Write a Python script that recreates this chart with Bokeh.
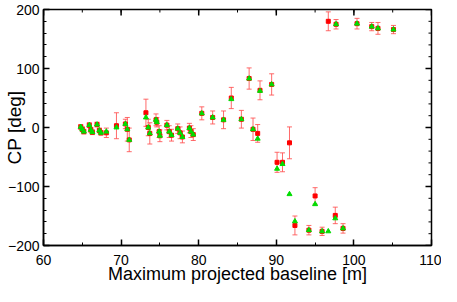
import math
from bokeh.plotting import figure
from bokeh.models import Range1d, LinearAxis, Whisker, TeeHead, ColumnDataSource, FixedTicker
from bokeh.embed import file_html
from bokeh.resources import INLINE

# Maximum projected baseline [m]
baseline = [64.8, 65.0, 65.2, 65.9, 66.1, 66.3, 66.9, 67.2, 67.4, 68.1,
            69.4, 70.55, 70.8, 71.05, 73.2, 73.5, 73.7, 74.5, 74.6, 74.9,
            75.0, 75.9, 76.2, 76.5, 77.3, 77.6, 77.9, 78.8, 79.0, 79.3,
            80.4, 81.8, 83.2, 84.2, 85.5, 86.5, 87.0, 87.6, 87.9, 89.4,
            90.1, 90.8, 91.7, 92.4, 94.2, 95.0, 95.9, 96.7, 97.6, 97.7,
            98.6, 100.4, 102.3, 103.1, 105.1]
# observed closure phase [deg] (red squares)
cp_obs = [1, -3, -7, 4, -4, -8, 5, -5, -9, -9,
          3, 6, -3, -21, 25, 0, -10, 13, 9, -7,
          -14, 4, -7, -13, -2, -9, -16, -1, -7, -12,
          24, 17, 13, 50, 14, 83, -3, -10, 63, 73,
          -59, -59, -26, -166, -174, -116, -176, 180, -149, 175,
          -171, 176, 171, 168, 166]
# error on observed closure phase [deg]
cp_err = [4, 4, 4, 4, 4, 4, 4, 4, 4, 8,
          22, 8, 20, 20, 23, 14, 18, 10, 8, 10,
          10, 8, 10, 10, 8, 10, 10, 8, 10, 10,
          11, 11, 15, 18, 15, 18, 19, 15, 16, 18,
          17, 16, 27, 16, 8, 14, 7, 16, 14, 8,
          8, 9, 7, 10, 7]
# model closure phase [deg] (green triangles)
cp_model = [1, -3, -7, 4, -4, -8, 5, -5, -9, -7,
            0, 6, -3, -21, 17, 0, -10, 13, 9, -7,
            -14, 4, -7, -13, -2, -9, -16, -1, -7, -12,
            24, 17, 13, 48, 14, 83, -3, -19, 62, 73,
            -70, -62, -113, -159, -174, -130, -176, -176, -154, 175,
            -171, 176, 171, 168, 166]

x_ticks = [60, 70, 80, 90, 100, 110]
x_minor = [60, 65, 70, 75, 80, 85, 90, 95, 100, 105, 110]
y_ticks = [-200, -100, 0, 100, 200]
y_minor = list(range(-200, 201, 20))
y_tick_labels = {-200: "\u2212200", -100: "\u2212100", 0: "0", 100: "100", 200: "200"}

X_MIN, X_MAX = 60, 110
Y_MIN, Y_MAX = -200, 200

src = ColumnDataSource(dict(
    x=baseline, obs=cp_obs, model=cp_model,
    lo=[o - e for o, e in zip(cp_obs, cp_err)],
    hi=[o + e for o, e in zip(cp_obs, cp_err)],
))

FONT = "Liberation Sans"

p = figure(width=441, height=286, output_backend="svg", toolbar_location=None,
           x_range=Range1d(X_MIN, X_MAX), y_range=Range1d(Y_MIN, Y_MAX),
           min_border_left=37, min_border_right=10, min_border_top=9, min_border_bottom=0,
           x_axis_location=None, y_axis_location=None)
p.grid.visible = False
p.outline_line_color = "black"
p.outline_line_width = 1.5
p.background_fill_color = "white"
p.border_fill_color = "white"


def style(ax, ticks, minor):
    ax.ticker = FixedTicker(ticks=ticks, minor_ticks=minor)
    ax.axis_line_color = "black"
    ax.axis_line_width = 1.5
    ax.major_tick_in = 6
    ax.major_tick_out = 0
    ax.minor_tick_in = 3
    ax.minor_tick_out = 0
    ax.major_tick_line_width = 1.5
    ax.minor_tick_line_width = 1
    ax.major_tick_line_color = "black"
    ax.minor_tick_line_color = "black"
    ax.major_label_text_font = FONT
    ax.major_label_text_font_size = "14px"
    ax.major_label_text_color = "black"
    ax.axis_label_text_font = FONT
    ax.axis_label_text_font_size = "19px"
    ax.axis_label_text_font_style = "normal"
    ax.axis_label_text_color = "black"


xb = LinearAxis(axis_label="Maximum projected baseline [m]")
style(xb, x_ticks, x_minor)
xb.axis_label_text_font_size = "18px"
xb.major_label_standoff = 9
xb.axis_label_standoff = -4
p.add_layout(xb, "below")

yl = LinearAxis(axis_label="CP [deg]")
style(yl, y_ticks, y_minor)
yl.major_label_standoff = 4
yl.axis_label_standoff = -20
yl.major_label_overrides = y_tick_labels
p.add_layout(yl, "left")

# mirrored inward ticks on the top and right edges (dash markers clipped by the frame)
p.scatter(x_ticks, [Y_MAX] * len(x_ticks), marker="dash", size=12, angle=math.pi / 2,
          line_color="black", line_width=1.5)
p.scatter(x_minor, [Y_MAX] * len(x_minor), marker="dash", size=6, angle=math.pi / 2,
          line_color="black", line_width=1)
p.scatter([X_MAX] * len(y_ticks), y_ticks, marker="dash", size=12,
          line_color="black", line_width=1.5)
p.scatter([X_MAX] * len(y_minor), y_minor, marker="dash", size=6,
          line_color="black", line_width=1)

whisk = Whisker(source=src, base="x", upper="hi", lower="lo", dimension="height",
                line_color="#ff5050", line_width=1, line_alpha=0.85,
                upper_head=TeeHead(size=5, line_color="#ff5050", line_width=1, line_alpha=0.85),
                lower_head=TeeHead(size=5, line_color="#ff5050", line_width=1, line_alpha=0.85))
p.add_layout(whisk)

p.scatter("x", "obs", source=src, marker="square", size=4, fill_color="#ff0000",
          line_color="#ff0000")
p.scatter("x", "model", source=src, marker="triangle", size=5, fill_color="#00dd00",
          line_color="#00dd00")

open("out.html", "w").write(file_html(p, INLINE))
